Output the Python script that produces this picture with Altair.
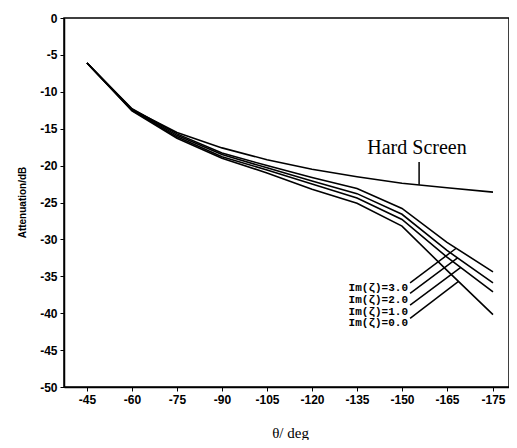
import altair as alt
import pandas as pd

# ---- data ----
deg = [-45, -60, -75, -90, -105, -120, -135, -150, -165, -175]
hard = [-6.1, -12.4, -15.5, -17.6, -19.2, -20.5, -21.5, -22.4, -23.0, -23.6]
im3 = [-6.1, -12.3, -15.7, -18.3, -20.0, -21.6, -23.1, -25.8, -30.4, -34.4]
im2 = [-6.1, -12.4, -15.9, -18.5, -20.3, -22.1, -23.8, -26.6, -31.5, -35.9]
im1 = [-6.1, -12.5, -16.1, -18.8, -20.6, -22.5, -24.4, -27.3, -32.4, -37.1]
im0 = [-6.1, -12.6, -16.3, -19.0, -21.0, -23.2, -25.1, -28.2, -34.2, -40.2]
series_names = ["Hard Screen", "Im(ζ)=3.0", "Im(ζ)=2.0", "Im(ζ)=1.0", "Im(ζ)=0.0"]
series_vals = [hard, im3, im2, im1, im0]

label_text = ["Im(ζ)=3.0", "Im(ζ)=2.0", "Im(ζ)=1.0", "Im(ζ)=0.0"]
label_x = [-152.0, -152.0, -152.0, -152.0]
label_y = [-36.6, -38.2, -39.8, -41.3]
leader_x1 = [-152.7, -152.7, -152.7, -152.7]
leader_y1 = [-35.9, -37.3, -38.9, -40.7]
leader_x2 = [-167.0, -167.3, -168.0, -167.5]
leader_y2 = [-31.2, -32.5, -33.8, -35.7]

hs_text = ["Hard Screen"]
hs_x = [-155.0]
hs_y = [-17.6]
ptr_x = [-155.7]
ptr_y1 = [-19.5]
ptr_y2 = [-22.6]

x_ticks = [-45, -60, -75, -90, -105, -120, -135, -150, -165, -175]
y_ticks = [0, -5, -10, -15, -20, -25, -30, -35, -40, -45, -50]

# ---- tables ----
rows = []
for name, vals in zip(series_names, series_vals):
    for d, v in zip(deg, vals):
        rows.append({"deg": d, "dB": v, "series": name})
df = pd.DataFrame(rows)
df_lab = pd.DataFrame({"deg": label_x, "dB": label_y, "t": label_text})
df_lead = pd.DataFrame({"deg": leader_x1, "dB": leader_y1, "deg2": leader_x2, "dB2": leader_y2})
df_hs = pd.DataFrame({"deg": hs_x, "dB": hs_y, "t": hs_text})
df_ptr = pd.DataFrame({"deg": ptr_x, "dB": ptr_y1, "dB2": ptr_y2})

xs = alt.Scale(domain=[-37.33, -165, -175, -178.5], range=[0, 383, 429, 445], nice=False, zero=False)
ys = alt.Scale(domain=[-50, 0], nice=False, zero=False)

x_axis = alt.Axis(values=x_ticks, labelExpr="'' + datum.value", title="θ/ deg",
                  titleFont="Liberation Serif", titleFontSize=15, titleFontWeight="normal",
                  titleX=226, titleY=45, titleBaseline="middle", titleColor="black",
                  labelFont="Liberation Sans", labelFontWeight="bold", labelFontSize=12,
                  labelPadding=3, tickSize=4, tickColor="black", domainColor="black",
                  domainWidth=1.5, labelColor="black", grid=False, labelFlush=False)
y_axis = alt.Axis(values=y_ticks, labelExpr="'' + datum.value", title="Attenuation/dB",
                  titleFont="Liberation Sans", titleFontSize=10, titleFontWeight="bold",
                  titleX=-42, titleY=184, titleAngle=-90, titleBaseline="middle", titleAlign="center",
                  titleColor="black",
                  labelFont="Liberation Sans", labelFontWeight="bold", labelFontSize=12,
                  labelPadding=3, tickSize=4, tickColor="black", domainColor="black",
                  domainWidth=1.5, labelColor="black", grid=False, labelFlush=False)

X = alt.X("deg:Q", scale=xs, axis=x_axis)
Y = alt.Y("dB:Q", scale=ys, axis=y_axis)

lines = alt.Chart(df).mark_line(color="black", strokeWidth=1.6).encode(
    x=X, y=Y, detail="series:N",
)

leads = alt.Chart(df_lead).mark_rule(color="black", strokeWidth=1.5).encode(
    x=X, y=Y, x2="deg2:Q", y2="dB2:Q",
)

labs = alt.Chart(df_lab).mark_text(font="Liberation Mono", fontWeight="bold", fontSize=11,
                                   align="right", baseline="middle", color="black").encode(
    x=X, y=Y, text="t:N",
)

hs = alt.Chart(df_hs).mark_text(font="Liberation Serif", fontSize=20, align="center",
                                baseline="middle", color="black").encode(
    x=X, y=Y, text="t:N",
)

ptr = alt.Chart(df_ptr).mark_rule(color="black", strokeWidth=1.5).encode(
    x=X, y=Y, y2="dB2:Q",
)

chart = alt.layer(lines, leads, labs, hs, ptr).properties(
    width=445, height=369,
    autosize=alt.AutoSizeParams(type="none"),
    padding={"left": 56, "top": 10, "right": 0, "bottom": 53},
    background="white",
).configure_view(stroke="black", strokeWidth=1.5)

chart.save("out.html", embed_options={"renderer": "svg", "actions": False})
